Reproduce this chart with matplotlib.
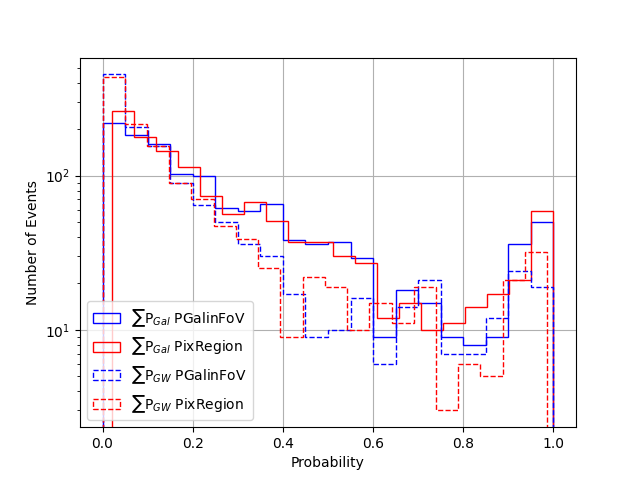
import matplotlib
matplotlib.use('Agg')
import matplotlib.pyplot as plt
import numpy as np

# bin edges of each histogram (20 bins, range of each sample)
edges_gal_fov = np.linspace(0.0, 1.0, 21)
edges_gal_pix = np.linspace(0.0205, 1.0, 21)
edges_gw_fov = np.linspace(0.0, 1.0, 21)
edges_gw_pix = np.linspace(0.0, 0.986, 21)

# counts per bin
counts_gal_fov = [220, 182, 160, 103, 100, 62, 59, 65, 38, 36,
                  37, 29, 9, 18, 15, 9, 8, 9, 36, 50]
counts_gal_pix = [264, 177, 145, 114, 74, 56, 67, 51, 37, 37,
                  30, 27, 12, 15, 10, 11, 14, 17, 21, 59]
counts_gw_fov = [453, 205, 155, 90, 64, 50, 36, 30, 17, 9,
                 10, 16, 6, 14, 21, 7, 7, 12, 24, 19]
counts_gw_pix = [433, 215, 155, 90, 70, 47, 39, 25, 9, 22,
                 19, 10, 15, 11, 19, 3, 6, 5, 21, 32]

labels = [r'$\sum$P$_{Gal}$ PGalinFoV', r'$\sum$P$_{Gal}$ PixRegion',
          r'$\sum$P$_{GW}$ PGalinFoV', r'$\sum$P$_{GW}$ PixRegion']


def plot_step(ax, edges, counts, color, ls, label):
    ax.hist(edges[:-1], bins=edges, weights=counts, histtype='step',
            color=color, linestyle=ls, label=label)


fig, ax = plt.subplots(figsize=(6.4, 4.8), dpi=100)
plot_step(ax, edges_gal_fov, counts_gal_fov, 'b', '-', labels[0])
plot_step(ax, edges_gal_pix, counts_gal_pix, 'r', '-', labels[1])
plot_step(ax, edges_gw_fov, counts_gw_fov, 'b', '--', labels[2])
plot_step(ax, edges_gw_pix, counts_gw_pix, 'r', '--', labels[3])

ax.set_yscale('log')
ax.set_xlabel('Probability')
ax.set_ylabel('Number of Events')
ax.grid(True)
ax.legend(loc='lower left')

plt.savefig('out.png')
